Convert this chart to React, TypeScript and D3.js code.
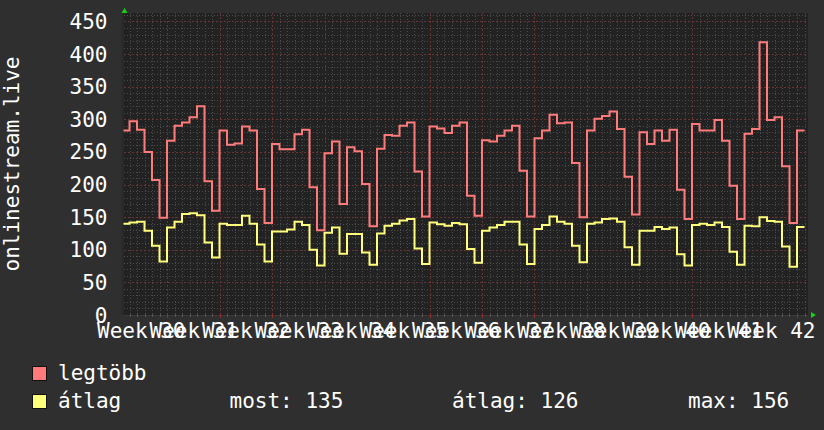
import React from 'react';
import * as d3 from 'd3';

// Daily values, index 0 is the day that starts six days before Week 30.
const maxSeries = [
  283, 297, 284, 250, 207, 149,
  267, 290, 295, 303, 320, 205, 160,
  283, 261, 263, 289, 283, 193, 141,
  262, 254, 254, 277, 284, 196, 130,
  248, 266, 170, 257, 251, 201, 136,
  255, 276, 275, 290, 295, 220, 151,
  289, 286, 279, 290, 295, 183, 152,
  268, 266, 275, 283, 290, 221, 151,
  271, 283, 307, 294, 295, 233, 150,
  283, 301, 305, 312, 285, 212, 154,
  280, 262, 283, 267, 284, 192, 147,
  293, 283, 283, 299, 267, 198, 147,
  278, 285, 418, 299, 303, 228, 141,
  283,
];

const avgSeries = [
  140, 142, 143, 129, 106, 82,
  134, 143, 155, 156, 153, 111, 88,
  140, 138, 138, 152, 140, 108, 82,
  128, 128, 131, 143, 138, 100, 76,
  126, 134, 94, 124, 124, 96, 77,
  125, 137, 140, 145, 147, 102, 78,
  142, 139, 137, 141, 139, 101, 80,
  129, 134, 138, 143, 143, 108, 78,
  132, 138, 151, 143, 140, 106, 81,
  140, 142, 147, 148, 143, 104, 77,
  129, 129, 135, 132, 134, 93, 76,
  138, 140, 138, 142, 135, 97, 77,
  137, 136, 150, 144, 143, 105, 74,
  135,
];

const weekLabels = [
  'Week 30', 'Week 31', 'Week 32', 'Week 33', 'Week 34', 'Week 35', 'Week 36',
  'Week 37', 'Week 38', 'Week 39', 'Week 40', 'Week 41', 'Week 42',
];

const yTicks = [0, 50, 100, 150, 200, 250, 300, 350, 400, 450];

const seriesNames = ['legtöbb', 'átlag'];
const seriesColors = ['#ff7b7b', '#ffff7b'];
const statLabels = ['most:', 'átlag:', 'max:'];
const statValues = [135, 126, 156];

const W = 824;
const H = 430;
const FONT = '"DejaVu Sans Mono", monospace';
const FONT_SIZE = 21;

// Plot frame
const left = 123.5;
const right = 808;
const top = 13;
const bottom = 315;

// Time axis in days, day 0 = start of Week 30
const firstDataDay = -6;
const x = d3.scaleLinear().domain([(left - 167) / 7.5, (right - 167) / 7.5]).range([left, right]);
const y = d3.scaleLinear().domain([0, 463]).range([bottom, top]);

const labelShiftDays = -3.43;

function stepPath(values: number[]) {
  const pts: [number, number][] = values.map((v, i) => [firstDataDay + i, v]);
  pts.push([firstDataDay + values.length, values[values.length - 1]]);
  const line = d3
    .line<[number, number]>()
    .x((d) => x(d[0]))
    .y((d) => y(d[1]))
    .curve(d3.curveStepAfter);
  return line(pts) || '';
}

const px = (v: number) => Math.round(v) + 0.5;

export default function App() {
  const [d0, d1] = x.domain();
  const dayLines = d3.range(Math.ceil(d0), Math.floor(d1) + 1);
  const weekDays = weekLabels.map((_, k) => k * 7);
  const minorY = d3.range(10, 463, 10).filter((v) => v % 50 !== 0);
  const majorY = yTicks.filter((v) => v > 0);

  return (
    <svg
      width={W}
      height={H}
      style={{ position: 'absolute', left: 0, top: 0, display: 'block' }}
      fontFamily={FONT}
      fontSize={FONT_SIZE}
    >
      <defs>
        <clipPath id="plotClip">
          <rect x={left} y={top} width={right - left} height={bottom - top + 1} />
        </clipPath>
      </defs>
      <rect x={0} y={0} width={W} height={H} fill="#2f2f2f" />
      <rect x={left - 2} y={top} width={2} height={bottom - top} fill="#2a2a2a" />
      <rect x={left} y={top} width={right - left} height={bottom - top} fill="#222222" />

      {/* minor grid */}
      <g stroke="#4c4c4c" strokeWidth={1} strokeDasharray="1,2" shapeRendering="crispEdges">
        {minorY.map((v) => (
          <line key={'hy' + v} x1={left} x2={right} y1={px(y(v))} y2={px(y(v))} />
        ))}
        {dayLines
          .filter((d) => d % 7 !== 0)
          .map((d) => (
            <line key={'vx' + d} x1={px(x(d))} x2={px(x(d))} y1={top} y2={bottom} />
          ))}
      </g>
      {/* major grid */}
      <g stroke="#6a3434" strokeWidth={1} strokeDasharray="2,2" shapeRendering="crispEdges">
        {majorY.map((v) => (
          <line key={'My' + v} x1={left} x2={right} y1={px(y(v))} y2={px(y(v))} />
        ))}
        {weekDays.map((d) => (
          <line key={'Mx' + d} x1={px(x(d))} x2={px(x(d))} y1={top} y2={bottom} />
        ))}
      </g>

      {/* axis ticks */}
      <g shapeRendering="crispEdges">
        <line x1={left} x2={right} y1={bottom + 0.5} y2={bottom + 0.5} stroke="#3a3a3a" />
        {dayLines.map((d) => (
          <line key={'t' + d} x1={px(x(d))} x2={px(x(d))} y1={bottom - 1} y2={bottom + 2} stroke="#555" />
        ))}
        {weekDays.map((d) => (
          <line key={'T' + d} x1={px(x(d))} x2={px(x(d))} y1={bottom - 2} y2={bottom + 3} stroke="#8a3030" />
        ))}
      </g>

      {/* series */}
      <g clipPath="url(#plotClip)" fill="none" strokeWidth={2} strokeLinejoin="miter">
        <path d={stepPath(maxSeries)} stroke={seriesColors[0]} />
        <path d={stepPath(avgSeries)} stroke={seriesColors[1]} />
      </g>

      {/* arrows */}
      <path d={`M${left - 2},${top} L${left + 4},${top} L${left + 1},${top - 5} Z`} fill="#18d018" />
      <path d={`M${right + 3},${bottom - 3} L${right + 3},${bottom + 3} L${right + 8},${bottom} Z`} fill="#18d018" />

      {/* y tick labels */}
      <g fill="#ffffff" textAnchor="end">
        {yTicks.map((v) => (
          <text key={'yl' + v} x={107.5} y={y(v) + 7.5}>
            {v}
          </text>
        ))}
      </g>

      {/* x tick labels */}
      <g fill="#ffffff" textAnchor="middle">
        {weekLabels.map((lab, k) => (
          <text key={lab} x={x(weekDays[k] + labelShiftDays)} y={338}>
            {lab}
          </text>
        ))}
      </g>

      {/* vertical title */}
      <text
        fill="#ffffff"
        textAnchor="middle"
        transform={`translate(18.5,164) rotate(-90)`}
      >
        onlinestream.live
      </text>

      {/* legend */}
      {seriesNames.map((name, k) => (
        <g key={name}>
          <rect
            x={32.5}
            y={366.5 + k * 28}
            width={14}
            height={14}
            fill={seriesColors[k]}
            stroke="#111"
            strokeWidth={1}
            shapeRendering="crispEdges"
          />
          <text x={58} y={380 + k * 28} fill="#ffffff">
            {name}
          </text>
        </g>
      ))}
      {statLabels.map((lab, k) => (
        <text key={lab} x={[229.5, 452, 688][k]} y={408} fill="#ffffff">
          {lab} {statValues[k]}
        </text>
      ))}
    </svg>
  );
}
